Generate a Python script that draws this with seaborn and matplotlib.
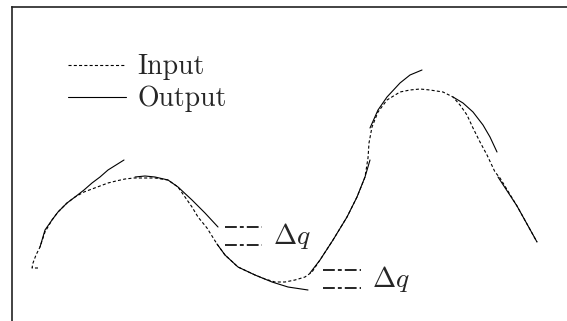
import numpy as np
import matplotlib
matplotlib.use('Agg')
import matplotlib.pyplot as plt
import seaborn as sns

# values (x to the right, y downward, picture units)
input_x = [38, 32, 33, 36, 40, 45, 52, 58, 67, 75, 84, 92, 100, 108, 116, 125, 134, 142,
           155, 168, 178, 185, 192, 198, 207, 212, 217, 225, 238, 255, 265, 275, 285,
           295, 305, 312, 320, 333, 347, 357, 365, 368, 369, 372, 378, 387, 400, 410,
           420, 430, 443, 453, 460, 467, 473, 480, 487, 495, 500, 517, 537]
input_y = [268, 268, 263, 255, 247, 232, 220, 212, 203, 197, 192, 189, 186, 183, 181, 179, 178, 178,
           178, 180, 187, 197, 207, 217, 228, 236, 244, 255, 267, 275, 279, 282, 282,
           280, 277, 272, 260, 240, 217, 197, 177, 158, 143, 127, 112, 100, 92, 90,
           89, 90, 92, 97, 105, 115, 128, 142, 155, 172, 178, 206, 242]

output_x = [
    [40, 45, 52, 58, 67, 75, 84, 92, 100, 108, 116, 124],
    [135, 145, 155, 168, 178, 192, 205, 218],
    [217, 225, 238, 255, 272, 288, 308],
    [310, 320, 333, 347, 357, 365, 370],
    [370, 378, 387, 400, 410, 422],
    [453, 463, 473, 483, 490, 497],
    [498, 517, 537],
]
output_y = [
    [247, 230, 220, 212, 203, 197, 190, 183, 177, 170, 165, 160],
    [177, 176, 177, 180, 187, 200, 213, 227],
    [244, 255, 267, 275, 282, 287, 290],
    [273, 260, 240, 217, 197, 177, 160],
    [128, 110, 97, 83, 75, 70],
    [97, 103, 112, 125, 137, 152],
    [177, 206, 242],
]

# delta q markers: (x start, x end, upper y, lower y)
dq_x0 = [225, 323]
dq_x1 = [262, 361]
dq_top = [227, 270]
dq_bot = [245, 288]
dq_label = r'$\Delta q$'

sns.set_style('white')
plt.rcParams['font.family'] = 'serif'
plt.rcParams['font.serif'] = ['cmr10', 'DejaVu Serif']
plt.rcParams['mathtext.fontset'] = 'cm'
plt.rcParams['axes.formatter.use_mathtext'] = True
plt.rcParams['lines.scale_dashes'] = False

fig = plt.figure(figsize=(5.67, 3.21), dpi=100)
ax = fig.add_axes([0, 0, 1, 1])

sns.lineplot(x=input_x, y=input_y, sort=False, color='black', lw=0.8,
             linestyle=(0, (2.2, 1.6)), ax=ax, label='Input')
for i, (xs, ys) in enumerate(zip(output_x, output_y)):
    sns.lineplot(x=xs, y=ys, sort=False, color='black', lw=0.8, ax=ax,
                 label='Output' if i == 0 else None)

for x0, x1, yt, yb in zip(dq_x0, dq_x1, dq_top, dq_bot):
    for yy in (yt, yb):
        ax.plot([x0, x1], [yy, yy], color='black', lw=1.2,
                linestyle=(0, (8.5, 2.2, 2.8, 2.2)))
    ax.text(x1 + 11, (yt + yb) / 2, dq_label, fontsize=20, va='center', ha='left')

ax.set_xlim(0, 567)
ax.set_ylim(321, 0)
ax.set_xticks([])
ax.set_yticks([])
for s in ['right', 'bottom']:
    ax.spines[s].set_visible(False)
ax.spines['left'].set_position(('data', 12))
ax.spines['left'].set_bounds(7, 321)
ax.spines['top'].set_position(('data', 7))
ax.spines['top'].set_bounds(12, 567)
for s in ['left', 'top']:
    ax.spines[s].set_color('#222222')
    ax.spines[s].set_linewidth(1.2)

leg = ax.legend(loc='upper left', bbox_to_anchor=(68 / 567, 1 - 54 / 321),
                frameon=False, fontsize=20, handlelength=2.1, handletextpad=0.4,
                labelspacing=0.2, borderpad=0, borderaxespad=0)

fig.savefig('out.png', dpi=100)
